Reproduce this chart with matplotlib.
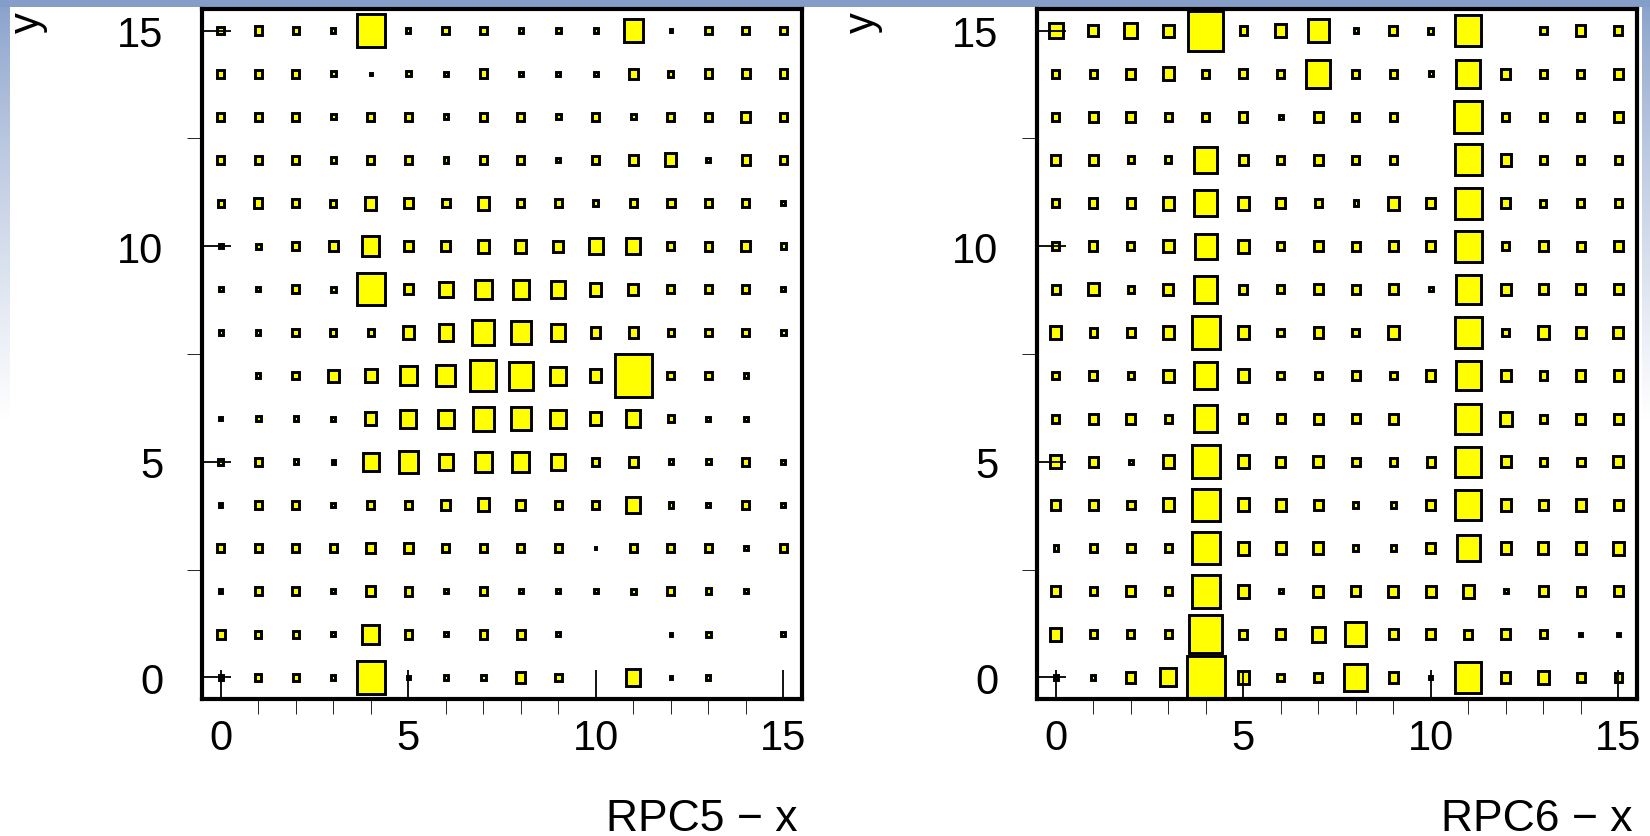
import numpy as np
import matplotlib
matplotlib.use("Agg")
import matplotlib.pyplot as plt
from matplotlib.patches import Rectangle

plt.rcParams['font.family'] = ['Liberation Sans', 'DejaVu Sans']

# bin centres (16 x 16 strips)
x_bins = list(range(16))
y_bins = list(range(16))
tick_vals = [0, 5, 10, 15]

# relative bin content (box side / bin size), rows listed from y=15 down to y=0
rpc5_rows = [
    [0.18, 0.20, 0.16, 0.10, 0.75, 0.10, 0.18, 0.18, 0.12, 0.12, 0.12, 0.52, 0.06, 0.18, 0.18, 0.18],
    [0.18, 0.18, 0.18, 0.12, 0.05, 0.12, 0.10, 0.20, 0.10, 0.10, 0.10, 0.24, 0.14, 0.20, 0.20, 0.20],
    [0.18, 0.18, 0.18, 0.12, 0.18, 0.18, 0.12, 0.18, 0.18, 0.12, 0.18, 0.12, 0.18, 0.18, 0.24, 0.18],
    [0.18, 0.18, 0.18, 0.12, 0.18, 0.18, 0.12, 0.18, 0.18, 0.10, 0.18, 0.24, 0.30, 0.10, 0.22, 0.18],
    [0.16, 0.22, 0.18, 0.16, 0.30, 0.24, 0.20, 0.30, 0.18, 0.18, 0.14, 0.18, 0.20, 0.18, 0.18, 0.10],
    [0.10, 0.12, 0.18, 0.24, 0.45, 0.24, 0.24, 0.30, 0.30, 0.26, 0.36, 0.38, 0.18, 0.20, 0.24, 0.14],
    [0.10, 0.10, 0.18, 0.12, 0.75, 0.24, 0.36, 0.44, 0.44, 0.38, 0.30, 0.26, 0.18, 0.18, 0.18, 0.10],
    [0.10, 0.10, 0.18, 0.16, 0.16, 0.30, 0.38, 0.58, 0.52, 0.38, 0.24, 0.24, 0.16, 0.18, 0.18, 0.12],
    [0.00, 0.10, 0.18, 0.28, 0.32, 0.45, 0.50, 0.70, 0.65, 0.42, 0.30, 0.98, 0.18, 0.18, 0.10, 0.00],
    [0.08, 0.12, 0.12, 0.10, 0.30, 0.42, 0.42, 0.55, 0.52, 0.42, 0.30, 0.38, 0.16, 0.10, 0.10, 0.00],
    [0.14, 0.18, 0.12, 0.08, 0.42, 0.50, 0.38, 0.45, 0.45, 0.38, 0.18, 0.24, 0.12, 0.12, 0.18, 0.10],
    [0.08, 0.18, 0.18, 0.10, 0.18, 0.18, 0.24, 0.30, 0.24, 0.18, 0.18, 0.38, 0.12, 0.10, 0.18, 0.10],
    [0.18, 0.18, 0.18, 0.20, 0.24, 0.24, 0.18, 0.18, 0.18, 0.18, 0.03, 0.18, 0.18, 0.18, 0.10, 0.18],
    [0.08, 0.18, 0.18, 0.10, 0.24, 0.20, 0.10, 0.18, 0.10, 0.10, 0.10, 0.12, 0.18, 0.14, 0.10, 0.00],
    [0.22, 0.16, 0.16, 0.10, 0.45, 0.20, 0.10, 0.20, 0.20, 0.10, 0.00, 0.00, 0.06, 0.12, 0.00, 0.10],
    [0.10, 0.16, 0.16, 0.10, 0.75, 0.08, 0.10, 0.12, 0.24, 0.18, 0.00, 0.38, 0.06, 0.10, 0.00, 0.00],
]

rpc6_rows = [
    [0.36, 0.26, 0.34, 0.28, 0.93, 0.20, 0.30, 0.55, 0.12, 0.22, 0.14, 0.70, 0.00, 0.18, 0.24, 0.22],
    [0.18, 0.18, 0.24, 0.30, 0.18, 0.22, 0.18, 0.65, 0.18, 0.18, 0.12, 0.65, 0.24, 0.18, 0.18, 0.24],
    [0.18, 0.24, 0.24, 0.18, 0.18, 0.22, 0.10, 0.24, 0.18, 0.18, 0.00, 0.75, 0.18, 0.18, 0.18, 0.24],
    [0.24, 0.24, 0.16, 0.16, 0.62, 0.24, 0.18, 0.24, 0.18, 0.18, 0.00, 0.72, 0.26, 0.20, 0.18, 0.20],
    [0.18, 0.22, 0.22, 0.30, 0.62, 0.30, 0.24, 0.20, 0.12, 0.30, 0.24, 0.72, 0.24, 0.16, 0.18, 0.20],
    [0.18, 0.22, 0.18, 0.28, 0.58, 0.30, 0.18, 0.24, 0.20, 0.24, 0.24, 0.72, 0.18, 0.24, 0.20, 0.24],
    [0.22, 0.28, 0.16, 0.26, 0.62, 0.22, 0.18, 0.24, 0.20, 0.24, 0.10, 0.66, 0.26, 0.24, 0.24, 0.24],
    [0.30, 0.20, 0.22, 0.30, 0.76, 0.30, 0.18, 0.24, 0.18, 0.30, 0.00, 0.72, 0.18, 0.30, 0.26, 0.26],
    [0.18, 0.22, 0.16, 0.28, 0.62, 0.30, 0.18, 0.18, 0.20, 0.18, 0.24, 0.66, 0.26, 0.20, 0.24, 0.24],
    [0.18, 0.24, 0.24, 0.18, 0.62, 0.22, 0.20, 0.24, 0.20, 0.24, 0.00, 0.70, 0.32, 0.18, 0.24, 0.24],
    [0.30, 0.24, 0.10, 0.30, 0.76, 0.30, 0.24, 0.26, 0.20, 0.18, 0.22, 0.70, 0.26, 0.18, 0.20, 0.26],
    [0.24, 0.24, 0.20, 0.30, 0.76, 0.30, 0.26, 0.24, 0.14, 0.14, 0.24, 0.70, 0.26, 0.24, 0.26, 0.24],
    [0.12, 0.18, 0.20, 0.18, 0.76, 0.30, 0.26, 0.26, 0.14, 0.14, 0.24, 0.62, 0.26, 0.26, 0.26, 0.30],
    [0.24, 0.18, 0.24, 0.18, 0.76, 0.30, 0.10, 0.26, 0.24, 0.26, 0.26, 0.30, 0.10, 0.24, 0.20, 0.24],
    [0.30, 0.18, 0.18, 0.18, 0.88, 0.22, 0.24, 0.36, 0.56, 0.24, 0.24, 0.22, 0.24, 0.18, 0.08, 0.08],
    [0.10, 0.10, 0.24, 0.42, 1.00, 0.30, 0.18, 0.22, 0.62, 0.24, 0.08, 0.70, 0.24, 0.30, 0.22, 0.20],
]

x_titles = ["RPC5 \u2212 x", "RPC6 \u2212 x"]
y_title = "y"

W, H = 1650, 837
fig = plt.figure(figsize=(W / 100, H / 100), dpi=100)

# slide background: blue band on top, fading strips on the sides
bg = np.ones((H, W, 3))
blue = np.array([0.525, 0.62, 0.79])
fade = (np.clip(np.arange(H) / 420.0, 0, 1) ** 0.8)[:, None, None]
side = blue[None, None, :] * (1 - fade) + fade
bg[:, :10] = side
bg[:, W - 8:] = side
bg[:8, :] = blue
ax_bg = fig.add_axes([0, 0, 1, 1], zorder=-10)
ax_bg.imshow(bg, aspect='auto', interpolation='bilinear')
ax_bg.axis('off')


def draw_boxes(ax, rows):
    vals = np.array(rows)[::-1]  # row 0 -> y = 0
    for iy, yv in enumerate(y_bins):
        for ix, xv in enumerate(x_bins):
            s = vals[iy, ix]
            if s <= 0:
                continue
            ax.add_patch(Rectangle((xv - s / 2, yv - s / 2), s, s,
                                   facecolor='#ffff00', edgecolor='black', lw=2.1))


panels = [(202, rpc5_rows, x_titles[0], 8), (1037, rpc6_rows, x_titles[1], 843)]
for left_px, rows, xt, ylab_px in panels:
    ax = fig.add_axes([left_px / W, 137 / H, 600 / W, 690 / H])
    draw_boxes(ax, rows)
    ax.set_xlim(-0.5, 15.5)
    ax.set_ylim(-0.5, 15.5)
    for sp in ax.spines.values():
        sp.set_linewidth(3)
    ax.set_xticks(tick_vals)
    ax.set_xticks(x_bins, minor=True)
    ax.set_yticks(tick_vals)
    ax.set_yticks([2.5, 7.5, 12.5], minor=True)
    ax.tick_params(direction='in', labelsize=30, width=1.3)
    ax.tick_params(axis='x', which='major', length=21, pad=14)
    ax.tick_params(axis='x', which='minor', length=11)
    ax.tick_params(axis='y', which='major', length=21, pad=28)
    ax.tick_params(axis='y', which='minor', length=11)
    ax.text(0.993, -0.19, xt, transform=ax.transAxes, ha='right', va='baseline',
            fontsize=32)
    fig.text(ylab_px / W, 1 - 12 / H, y_title, rotation=90, ha='left', va='top',
             fontsize=30)

fig.savefig("out.png", dpi=100)
